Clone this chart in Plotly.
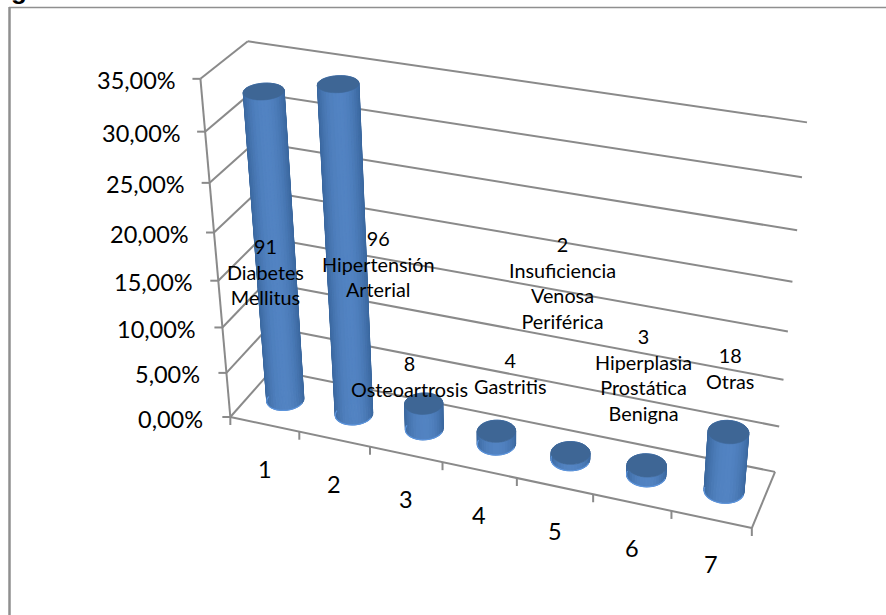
import numpy as np
import plotly.graph_objects as go

# Patient counts per diagnosis, and the share of the 280 patients they represent
counts = [91, 96, 8, 4, 2, 3, 18]
patients_total = 280
categories = ["1", "2", "3", "4", "5", "6", "7"]
diagnoses = ["Diabetes<br>Mellitus", "Hipertensión<br>Arterial", "Osteoartrosis", "Gastritis",
             "Insuficiencia<br>Venosa<br>Periférica", "Hiperplasia<br>Prostática<br>Benigna", "Otras"]
value_ticks = [0, 5, 10, 15, 20, 25, 30, 35]
value_tick_labels = ["0,00%", "5,00%", "10,00%", "15,00%", "20,00%", "25,00%", "30,00%", "35,00%"]

shares = [100 * c / patients_total for c in counts]

W, H = 886, 615
N_CAT = len(categories)
Z_MAX = value_ticks[-1]

# Camera model: (category position, depth 0-1, value) to canvas position, solved by least squares
camera_marks = [
    (0, 0, 0, 230, 417), (0, 0, 5, 227, 373), (0, 0, 10, 222.5, 327), (0, 0, 15, 218, 281),
    (0, 0, 20, 214, 232), (0, 0, 25, 210, 183), (0, 0, 30, 205, 132), (0, 0, 35, 200, 79),
    (7, 0, 0, 752, 528), (0, 1, 35, 248, 41), (0, 1, 0, 272, 370),
    (7, 1, 0, 775, 472), (7, 1, 5, 779, 427), (7, 1, 10, 783, 379), (7, 1, 15, 788, 332),
    (7, 1, 20, 793, 281), (7, 1, 25, 797, 230), (7, 1, 30, 802, 177), (7, 1, 35, 807, 123),
]
rows, rhs = [], []
for x, d, z, u, v in camera_marks:
    rows.append([x, d, z, 1, 0, 0, 0, 0, -u * x, -u * d, -u * z]); rhs.append(u)
    rows.append([0, 0, 0, 0, x, d, z, 1, -v * x, -v * d, -v * z]); rhs.append(v)
p = np.linalg.lstsq(np.array(rows, float), np.array(rhs, float), rcond=None)[0]
P = np.append(p, 1.0).reshape(3, 4)


def project(x, d, z):
    x, d, z = np.broadcast_arrays(np.asarray(x, float), np.asarray(d, float), np.asarray(z, float))
    q = P @ np.vstack([x.ravel(), d.ravel(), z.ravel(), np.ones(x.size)])
    return q[0] / q[2], q[1] / q[2]


def mix(a, b, t):
    return "rgb(%d,%d,%d)" % tuple(round(a[i] + (b[i] - a[i]) * t) for i in range(3))


fig = go.Figure()
GRID = "#8a8a8a"
GRID_W = 2


def segment(a, b, width=GRID_W, color=GRID):
    u, v = project([a[0], b[0]], [a[1], b[1]], [a[2], b[2]])
    fig.add_trace(go.Scatter(x=u, y=v, mode="lines", line=dict(color=color, width=width), hoverinfo="skip"))


# Wall gridlines and side-wall diagonals
for z in value_ticks:
    segment((0, 1, z), (N_CAT, 1, z))
    segment((0, 0, z), (0, 1, z))
    u, v = project([0], [0], [z])
    fig.add_trace(go.Scatter(x=[u[0] - 8, u[0]], y=[v[0], v[0]], mode="lines",
                             line=dict(color=GRID, width=GRID_W), hoverinfo="skip"))

# Value axis, floor outline and category ticks
segment((0, 0, 0), (0, 0, Z_MAX))
segment((0, 0, 0), (N_CAT, 0, 0))
segment((N_CAT, 0, 0), (N_CAT, 1, 0))
for i in range(N_CAT + 1):
    u, v = project([i], [0], [0])
    fig.add_trace(go.Scatter(x=[u[0], u[0]], y=[v[0], v[0] + 8], mode="lines",
                             line=dict(color=GRID, width=GRID_W), hoverinfo="skip"))

# Cylinders: shaded side strips from back to front, then the light lower rim and the top cap
RX, RD = 0.245, 0.205
EDGE = (58, 103, 158)
CENTRE = (82, 131, 194)
CAP = "#3e6695"
RIM = "#5c94dc"
STRIPS = 40
angles = np.linspace(0, 2 * np.pi, STRIPS + 1)
for i, share in enumerate(shares):
    cx = i + 0.5
    ring_x = cx + RX * np.cos(angles)
    ring_d = 0.5 + RD * np.sin(angles)
    bu, bv = project(ring_x, ring_d, np.zeros_like(angles))
    tu, tv = project(ring_x, ring_d, np.full_like(angles, share))
    half = (bu.max() - bu.min()) / 2
    mid = (bu.max() + bu.min()) / 2
    order = sorted(range(STRIPS), key=lambda k: -np.sin((angles[k] + angles[k + 1]) / 2))
    for k in order:
        offset = abs((bu[k] + bu[k + 1]) / 2 - mid) / half
        colour = mix(CENTRE, EDGE, offset ** 2.2)
        fig.add_trace(go.Scatter(
            x=[bu[k], bu[k + 1], tu[k + 1], tu[k], bu[k]],
            y=[bv[k], bv[k + 1], tv[k + 1], tv[k], bv[k]],
            mode="lines", fill="toself", fillcolor=colour,
            line=dict(color=colour, width=1.0, simplify=False), hoverinfo="skip"))
    front = angles >= np.pi
    fig.add_trace(go.Scatter(x=bu[front], y=bv[front], mode="lines",
                             line=dict(color=RIM, width=1.2, simplify=False), hoverinfo="skip"))
    fig.add_trace(go.Scatter(x=tu, y=tv, mode="lines", fill="toself", fillcolor=CAP,
                             line=dict(color=CAP, width=0.6, simplify=False), hoverinfo="skip"))

FONT = "Lato"
TEXT = "#000000"

# Value-axis labels
for z, lab in zip(value_ticks, value_tick_labels):
    u, v = project([0], [0], [z])
    fig.add_annotation(x=u[0] - (25 - 3 * z / Z_MAX), y=v[0] + 1.5, text=lab, showarrow=False,
                       xanchor="right", yanchor="middle",
                       font=dict(family=FONT, size=23.5, color=TEXT))

# Category labels under the floor edge
for i, lab in enumerate(categories):
    u, v = project([i + 0.5], [0], [0])
    fig.add_annotation(x=u[0], y=v[0] + 45, text=lab, showarrow=False, xanchor="center",
                       yanchor="middle", font=dict(family=FONT, size=23.5, color=TEXT))

# Data labels: count above diagnosis name
label_anchor_x = [265, 378, 409, 510, 562, 643, 730]
label_first_line_y = [246, 238, 363, 360, 244, 336, 355]
for ax, ay, c, name in zip(label_anchor_x, label_first_line_y, counts, diagnoses):
    fig.add_annotation(x=ax, y=ay - 14, text=f"{c}<br>{name}", showarrow=False, xanchor="center",
                       yanchor="top", align="center",
                       font=dict(family=FONT, size=19.8, color=TEXT))

# Caption of the page, running off the top edge, and the frame round the chart
fig.add_annotation(x=9, y=7, text="<b>g</b>", showarrow=False, xanchor="left", yanchor="bottom",
                   font=dict(family="Liberation Sans", size=26, color="#000000"))
fig.add_shape(type="line", x0=9.5, x1=9.5, y0=7, y1=H, line=dict(color="#8f8f8f", width=2.5))
fig.add_shape(type="line", x0=9, x1=W, y0=7.5, y1=7.5, line=dict(color="#8f8f8f", width=1.5))

fig.update_layout(
    width=W, height=H, margin=dict(l=0, r=0, t=0, b=0), showlegend=False,
    paper_bgcolor="white", plot_bgcolor="white",
    xaxis=dict(range=[0, W], visible=False, fixedrange=True),
    yaxis=dict(range=[H, 0], visible=False, fixedrange=True),
)
fig.write_html("out.html", config={"displayModeBar": False})
